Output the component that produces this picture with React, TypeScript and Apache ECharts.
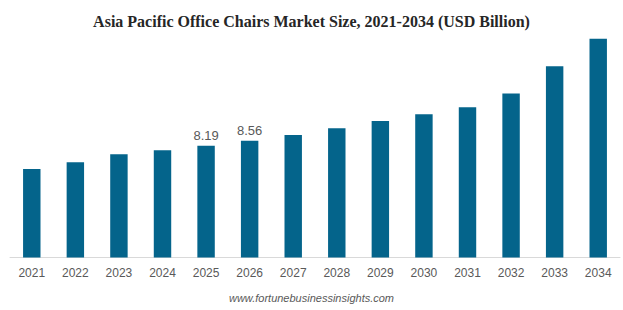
import React, { useEffect, useRef } from "react";
import * as echarts from "echarts";

const years = ["2021", "2022", "2023", "2024", "2025", "2026", "2027", "2028", "2029", "2030", "2031", "2032", "2033", "2034"];
const marketSize = [6.49, 6.98, 7.57, 7.86, 8.19, 8.56, 8.99, 9.48, 10.01, 10.51, 11.02, 12.02, 14.03, 16.03];
const labeledYears = ["2025", "2026"];

const titleText = "Asia Pacific Office Chairs Market Size, 2021-2034 (USD Billion)";
const sourceText = "www.fortunebusinessinsights.com";

export default function App() {
  const ref = useRef<HTMLDivElement>(null);

  useEffect(() => {
    if (!ref.current) return;
    const chart = echarts.init(ref.current, undefined, { renderer: "svg" });
    chart.setOption({
      animation: false,
      backgroundColor: "#ffffff",
      title: {
        text: titleText,
        left: "center",
        top: 8,
        textStyle: {
          fontFamily: "Liberation Serif",
          fontWeight: "bold",
          fontSize: 16,
          color: "#262626",
        },
      },
      graphic: [
        {
          type: "text",
          left: "center",
          top: 292,
          style: {
            text: sourceText,
            fontFamily: "Liberation Sans",
            fontStyle: "italic",
            fontSize: 11,
            fill: "#595959",
          },
        },
      ],
      grid: { left: 10, right: 3, top: 12, bottom: 52.5 },
      xAxis: {
        type: "category",
        data: years,
        axisLine: { lineStyle: { color: "#d9d9d9", width: 1 } },
        axisTick: { show: false },
        axisLabel: {
          color: "#595959",
          fontFamily: "Liberation Sans",
          fontSize: 12,
          margin: 9,
        },
      },
      yAxis: {
        type: "value",
        min: 0,
        max: 18,
        show: false,
        splitLine: { show: false },
      },
      series: [
        {
          type: "bar",
          data: marketSize.map((v, i) => ({
            value: v,
            label: {
              show: labeledYears.includes(years[i]),
              position: "top",
              distance: 4,
              color: "#595959",
              fontFamily: "Liberation Sans",
              fontSize: 13,
            },
          })),
          barWidth: "40%",
          itemStyle: { color: "#04648b" },
        },
      ],
    });
    return () => chart.dispose();
  }, []);

  return (
    <div
      ref={ref}
      style={{ position: "fixed", left: 0, top: 0, width: 623, height: 310 }}
    />
  );
}
